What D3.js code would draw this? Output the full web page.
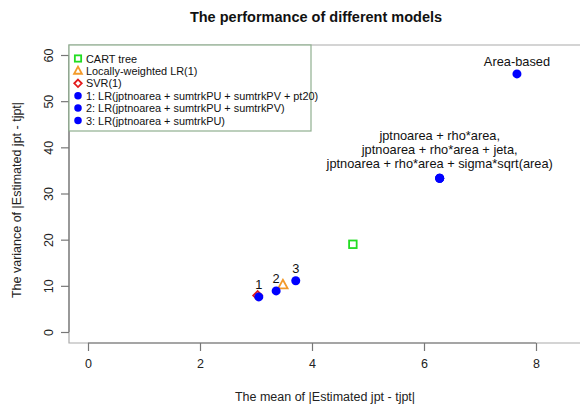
<!DOCTYPE html>
<html>
<head>
<meta charset="utf-8">
<script src="https://cdn.jsdelivr.net/npm/d3@7"></script>
<style>
  html, body { margin: 0; padding: 0; background: #fff; }
  svg { display: block; font-family: "Liberation Sans", Arial, Helvetica, sans-serif; }
</style>
</head>
<body>
<svg id="chart" width="580" height="408"></svg>
<script>
// ---- data ----
const titleText = "The performance of different models";
const xLabel = "The mean of |Estimated jpt - tjpt|";
const yLabel = "The variance of |Estimated jpt - tjpt|";
const xTicks = [0, 2, 4, 6, 8];
const yTicks = [0, 10, 20, 30, 40, 50, 60];

const legendLabels = [
  "CART tree",
  "Locally-weighted LR(1)",
  "SVR(1)",
  "1: LR(jptnoarea + sumtrkPU + sumtrkPV + pt20)",
  "2: LR(jptnoarea + sumtrkPU + sumtrkPV)",
  "3: LR(jptnoarea + sumtrkPU)"
];
const legendShapes = ["square", "triangle", "diamond", "dot", "dot", "dot"];

const pointNames = ["CART tree", "Locally-weighted LR(1)", "SVR(1)", "LR1", "LR2", "LR3",
  "Area-based", "jptnoarea + rho*area", "jptnoarea + rho*area + jeta", "jptnoarea + rho*area + sigma*sqrt(area)"];
const meanErr = [4.73, 3.48, 3.03, 3.05, 3.36, 3.71, 7.66, 6.28, 6.28, 6.28];
const varErr  = [19.0, 10.2, 7.9, 7.6, 8.9, 11.1, 55.9, 33.3, 33.3, 33.3];
const pointShapes = ["square", "triangle", "diamond", "dot", "dot", "dot", "dot", "dot", "dot", "dot"];

const numLabels = ["1", "2", "3"];
const numLabelIdx = [3, 4, 5];
const areaLabel = "Area-based";
const rhoLabelLines = ["jptnoarea + rho*area,", "jptnoarea + rho*area + jeta,", "jptnoarea + rho*area + sigma*sqrt(area)"];

const shapeColor = { square: "#22dd22", triangle: "#f39a2a", diamond: "#e31a1c", dot: "#0000ff" };

// ---- layout ----
const svg = d3.select("#chart");
const box = { left: 69, top: 45, bottom: 343, right: 600 };
const x = d3.scaleLinear().domain([0, 8]).range([88, 536]);
const y = d3.scaleLinear().domain([0, 60]).range([332, 55]);

// plot box
svg.append("path")
  .attr("d", `M${box.right},${box.top}H${box.left}V${box.bottom}H${box.right}`)
  .attr("fill", "none").attr("stroke", "#aaaaaa").attr("stroke-width", 1.2);

// x axis
const xAxis = svg.append("g").attr("transform", `translate(0,${box.bottom})`)
  .call(d3.axisBottom(x).tickValues(xTicks).tickSize(8).tickPadding(8).tickFormat(d3.format("d")));
xAxis.select(".domain").attr("stroke", "#777").attr("stroke-width", 1.2)
  .attr("d", `M${x(0)},0H${x(8)}`);
xAxis.selectAll(".tick line").attr("stroke", "#777").attr("stroke-width", 1.2);
xAxis.selectAll(".tick text").attr("font-size", 12.5).attr("fill", "#222")
  .attr("font-family", "Liberation Sans, Arial, sans-serif");

// y axis
const yAxis = svg.append("g").attr("transform", `translate(${box.left},0)`)
  .call(d3.axisLeft(y).tickValues(yTicks).tickSize(8).tickFormat(d3.format("d")));
yAxis.select(".domain").attr("stroke", "#777").attr("stroke-width", 1.2)
  .attr("d", `M0,${y(0)}V${y(60)}`);
yAxis.selectAll(".tick line").attr("stroke", "#777").attr("stroke-width", 1.2);
yAxis.selectAll(".tick text")
  .attr("x", null).attr("dy", null)
  .attr("transform", "translate(-20,0) rotate(-90)")
  .attr("text-anchor", "middle").attr("dominant-baseline", "central")
  .attr("font-size", 12.5).attr("fill", "#222")
  .attr("font-family", "Liberation Sans, Arial, sans-serif");

// titles
svg.append("text").attr("x", 316).attr("y", 22).attr("text-anchor", "middle")
  .attr("font-size", 14.5).attr("font-weight", "bold").attr("fill", "#111").text(titleText);
svg.append("text").attr("x", 325).attr("y", 401).attr("text-anchor", "middle")
  .attr("font-size", 12.5).attr("fill", "#222").text(xLabel);
svg.append("text").attr("transform", `translate(17,${(box.top + box.bottom) / 2 + 6}) rotate(-90)`)
  .attr("text-anchor", "middle").attr("dominant-baseline", "central")
  .attr("font-size", 12.5).attr("fill", "#222").text(yLabel);

// marker drawer
function drawShape(g, shape, cx, cy, s) {
  const c = shapeColor[shape];
  if (shape === "square") {
    g.append("rect").attr("x", cx - s * 0.42).attr("y", cy - s * 0.42)
      .attr("width", s * 0.84).attr("height", s * 0.84)
      .attr("fill", "none").attr("stroke", c).attr("stroke-width", 1.8);
  } else if (shape === "triangle") {
    const h = s * 0.95;
    g.append("path").attr("d", `M${cx},${cy - h * 0.6}L${cx + h * 0.55},${cy + h * 0.4}L${cx - h * 0.55},${cy + h * 0.4}Z`)
      .attr("fill", "none").attr("stroke", c).attr("stroke-width", 1.8);
  } else if (shape === "diamond") {
    const r = s * 0.5;
    g.append("path").attr("d", `M${cx},${cy - r}L${cx + r},${cy}L${cx},${cy + r}L${cx - r},${cy}Z`)
      .attr("fill", "none").attr("stroke", c).attr("stroke-width", 1.8);
  } else {
    g.append("circle").attr("cx", cx).attr("cy", cy).attr("r", s * 0.5).attr("fill", c);
  }
}

// points
const pts = svg.append("g");
pointNames.forEach((n, i) => {
  drawShape(pts, pointShapes[i], x(meanErr[i]), y(varErr[i]), 9);
});

// point labels
const lab = svg.append("g").attr("font-size", 12.8).attr("fill", "#111").attr("text-anchor", "middle");
numLabelIdx.forEach((idx, k) => {
  lab.append("text").attr("x", x(meanErr[idx])).attr("y", y(varErr[idx]) - 8).text(numLabels[k]);
});
lab.append("text").attr("x", x(meanErr[6])).attr("y", y(varErr[6]) - 8).text(areaLabel);
rhoLabelLines.forEach((t, k) => {
  lab.append("text").attr("x", x(meanErr[7]))
    .attr("y", y(varErr[7]) - 10 - (rhoLabelLines.length - 1 - k) * 14).text(t);
});

// legend
const lg = svg.append("g");
lg.append("rect").attr("x", box.left).attr("y", box.top).attr("width", 242).attr("height", 86)
  .attr("fill", "#fff").attr("stroke", "#8fb08f").attr("stroke-width", 1.2);
legendLabels.forEach((t, i) => {
  const cy = 58.5 + i * 12.4;
  drawShape(lg, legendShapes[i], 78, cy, 7.5);
  lg.append("text").attr("x", 86).attr("y", cy).attr("dominant-baseline", "central")
    .attr("font-size", 10.9).attr("fill", "#111").text(t);
});
</script>
</body>
</html>
